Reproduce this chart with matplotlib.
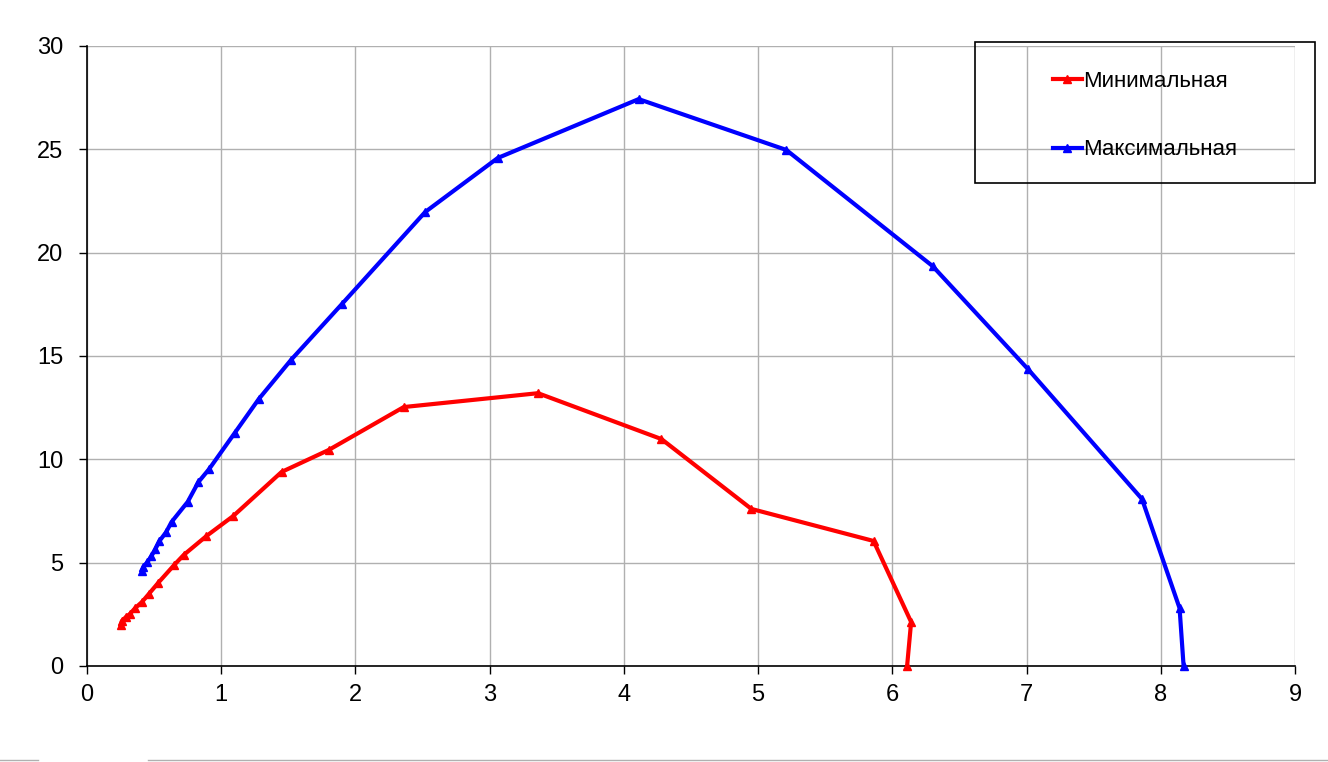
import matplotlib.pyplot as plt
from matplotlib.patches import Rectangle
from matplotlib.lines import Line2D

plt.rcParams['font.family'] = ['Liberation Sans', 'DejaVu Sans']

# Минимальная
min_x = [6.11, 6.14, 5.86, 4.95, 4.28, 3.36, 2.36, 1.80, 1.45, 1.09, 0.89, 0.72,
         0.65, 0.53, 0.46, 0.41, 0.36, 0.32, 0.29, 0.26, 0.25]
min_y = [0.0, 2.13, 6.05, 7.6, 10.98, 13.2, 12.53, 10.45, 9.39, 7.26, 6.29, 5.37,
         4.89, 4.02, 3.48, 3.10, 2.81, 2.52, 2.37, 2.18, 1.98]

# Максимальная
max_x = [8.17, 8.14, 7.86, 7.01, 6.30, 5.21, 4.11, 3.06, 2.52, 1.90, 1.52, 1.28,
         1.10, 0.91, 0.83, 0.75, 0.63, 0.59, 0.54, 0.51, 0.48, 0.45, 0.42, 0.41]
max_y = [0.0, 2.8, 8.08, 14.37, 19.35, 24.97, 27.43, 24.58, 21.97, 17.52, 14.81, 12.92,
         11.27, 9.53, 8.90, 7.94, 6.97, 6.48, 6.05, 5.66, 5.32, 5.03, 4.79, 4.60]

fig = plt.figure(figsize=(13.28, 7.62), dpi=100)
ax = fig.add_axes([87/1328, 1 - 666/762, (1295 - 87)/1328, (666 - 46)/762])

ax.plot(min_x, min_y, color='#ff0000', lw=3, marker='^', ms=6, label='Минимальная', clip_on=False, zorder=3)
ax.plot(max_x, max_y, color='#0000ff', lw=3, marker='^', ms=6, label='Максимальная', clip_on=False, zorder=3)

ax.set_xlim(0, 9)
ax.set_ylim(0, 30)
ax.set_xticks(range(0, 10))
ax.set_yticks(range(0, 31, 5))
ax.grid(True, color='#b0b0b0', lw=1)
ax.set_axisbelow(True)
for s in ['top', 'right']:
    ax.spines[s].set_visible(False)
for s in ['left', 'bottom']:
    ax.spines[s].set_linewidth(1.2)
ax.tick_params(labelsize=17, length=6, width=1, direction='out')
ax.tick_params(axis='y', pad=11)
ax.tick_params(axis='x', pad=7)
for t in ax.get_xticklabels() + ax.get_yticklabels():
    t.set_family(['Liberation Sans Narrow', 'Liberation Sans'])

# legend box
fig.patches.append(Rectangle((975/1328, 1 - 183/762), 340/1328, 141/762,
                             transform=fig.transFigure, fill=False, edgecolor='black', lw=1.2))
h, l = ax.get_legend_handles_labels()
fig.legend(h, l, loc='center', bbox_to_anchor=(975/1328, 1 - 186/762, 340/1328, 141/762),
           frameon=False, fontsize=16, handlelength=1.3, handletextpad=0.05, labelspacing=2.15)

# sheet artifacts at the bottom
fig.add_artist(Line2D([0, 38/1328], [2/762, 2/762], color='#b0b0b0', lw=1, transform=fig.transFigure))
fig.add_artist(Line2D([148/1328, 1], [2/762, 2/762], color='#b0b0b0', lw=1, transform=fig.transFigure))

plt.savefig('out.png', dpi=100, facecolor='white')
